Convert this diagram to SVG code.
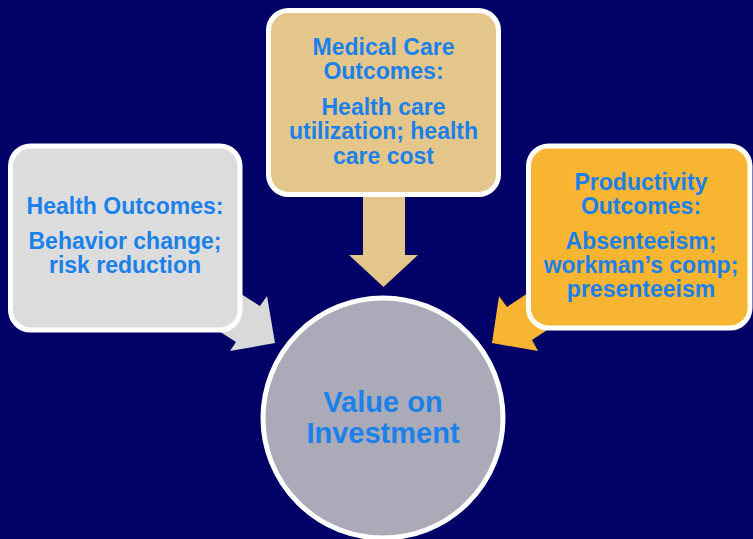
<svg xmlns="http://www.w3.org/2000/svg" width="753" height="539" viewBox="0 0 753 539">
<style>
.box{stroke:#ffffff;stroke-width:5}
.t{font-family:"Liberation Sans",Arial,sans-serif;font-weight:bold;fill:#1a80ea;text-anchor:middle;font-size:23px}
.big{font-size:29px}
</style>
<rect x="0" y="0" width="753" height="539" fill="#000066"/>
<g id="connectors">
<polygon points="213,276 260,306 267,296 275,343 230,351 236,342 186,310" fill="#d9d9d9"/>
<polygon points="363,190 405,190 405,255 418,255 383.5,287 349,255 363,255" fill="#e5c68a"/>
<polygon points="557,274 507,307 499,296 492,343 538,351 532,340 582,307" fill="#f7b532"/>
</g>
<g id="health">
<rect class="box" x="10.5" y="146" width="229.5" height="184" rx="20" fill="#dcdcdc"/>
<text class="t" x="125" y="214">Health Outcomes:</text>
<text class="t" x="125" y="249">Behavior change;</text>
<text class="t" x="125" y="273">risk reduction</text>
</g>
<g id="medical">
<rect class="box" x="268.5" y="10.5" width="230" height="184" rx="20" fill="#e5c68a"/>
<text class="t" x="383.5" y="55">Medical Care</text>
<text class="t" x="383.5" y="79">Outcomes:</text>
<text class="t" x="383.5" y="115">Health care</text>
<text class="t" x="383.5" y="139">utilization; health</text>
<text class="t" x="383.5" y="164">care cost</text>
</g>
<g id="productivity">
<rect class="box" x="528.5" y="146" width="221.5" height="182" rx="20" fill="#f7b532"/>
<text class="t" x="641" y="190">Productivity</text>
<text class="t" x="641" y="214">Outcomes:</text>
<text class="t" x="641" y="249">Absenteeism;</text>
<text class="t" x="641" y="273">workman’s comp;</text>
<text class="t" x="641" y="297">presenteeism</text>
</g>
<g id="value">
<circle class="box" cx="383" cy="418" r="120" fill="#aaaab8"/>
<text class="t big" x="383" y="412">Value on</text>
<text class="t big" x="383" y="443">Investment</text>
</g>
</svg>
